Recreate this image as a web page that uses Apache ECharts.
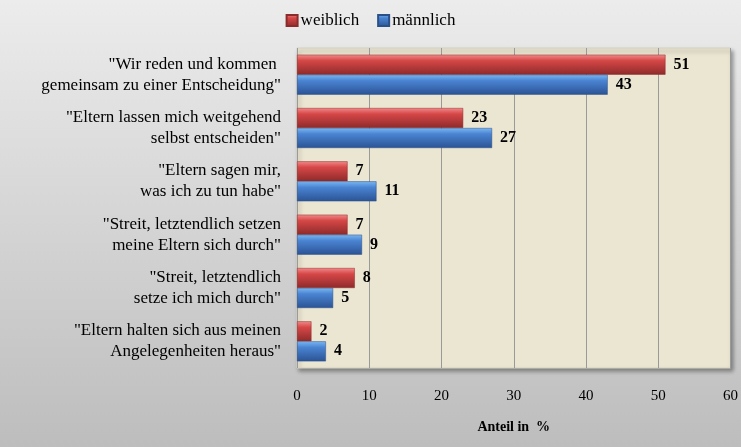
<!DOCTYPE html>
<html>
<head>
<meta charset="utf-8">
<script src="https://cdn.jsdelivr.net/npm/echarts@6/dist/echarts.min.js"></script>
<style>
  html, body { margin: 0; padding: 0; }
  #chart { width: 741px; height: 447px; background: linear-gradient(#ececec, #bdbdbd); }
</style>
</head>
<body>
<div id="chart"></div>
<script>
'use strict';

var categories = [
    '"Wir reden und kommen \ngemeinsam zu einer Entscheidung"',
    '"Eltern lassen mich weitgehend\nselbst entscheiden"',
    '"Eltern sagen mir,\nwas ich zu tun habe"',
    '"Streit, letztendlich setzen\nmeine Eltern sich durch"',
    '"Streit, letztendlich\nsetze ich mich durch"',
    '"Eltern halten sich aus meinen\nAngelegenheiten heraus"'
];
var weiblich = [51, 23, 7, 7, 8, 2];
var maennlich = [43, 27, 11, 9, 5, 4];
var xTicks = [0, 10, 20, 30, 40, 50, 60];

var serif = '"Liberation Serif", "Times New Roman", serif';

function grad(c1, c2, c3) {
    return new echarts.graphic.LinearGradient(0, 0, 0, 1, [
        {offset: 0, color: c1},
        {offset: 0.3, color: c2},
        {offset: 1, color: c3}
    ]);
}

var chart = echarts.init(document.getElementById('chart'));
var option = {
    backgroundColor: 'transparent',
    textStyle: {fontFamily: serif},
    legend: {
        top: 7,
        left: 'center',
        itemWidth: 11,
        itemHeight: 11,
        itemGap: 18,
        icon: 'rect',
        textStyle: {fontFamily: serif, fontSize: 17, color: '#000', padding: [0, 0, 0, -2]},
        data: ['weiblich', 'männlich']
    },
    grid: {
        left: 297,
        right: 6,
        top: 48,
        bottom: 79,
        show: true,
        backgroundColor: '#ebe6d2',
        borderColor: '#d6d2c0',
        borderWidth: 1,
        shadowColor: 'rgba(0,0,0,0.35)',
        shadowBlur: 4,
        shadowOffsetX: 2,
        shadowOffsetY: 3
    },
    xAxis: {
        type: 'value',
        min: 0,
        max: 60,
        interval: 10,
        name: 'Anteil in  %',
        nameLocation: 'middle',
        nameGap: 52,
        nameTextStyle: {fontFamily: serif, fontSize: 14, fontWeight: 'bold', color: '#000'},
        axisLine: {show: false},
        axisTick: {show: false},
        axisLabel: {
            fontFamily: serif, fontSize: 15, color: '#000', margin: 21,
            formatter: function (v) { return xTicks.indexOf(v) >= 0 ? String(v) : ''; }
        },
        splitLine: {show: true, lineStyle: {color: '#9a9a9a', width: 1}}
    },
    yAxis: {
        type: 'category',
        inverse: true,
        data: categories,
        axisLine: {show: false},
        axisTick: {show: false},
        axisLabel: {
            interval: 0,
            fontFamily: serif, fontSize: 17, color: '#000', lineHeight: 21, margin: 16,
            align: 'right'
        }
    },
    series: [
        {
            name: 'weiblich',
            type: 'bar',
            data: weiblich,
            barGap: '0%',
            barCategoryGap: '25%',
            itemStyle: {
                color: grad('#f28a8a', '#d64747', '#8e2a2a'),
                borderColor: '#8c2b2b',
                borderWidth: 0.5
            },
            label: {
                show: true, position: 'right', distance: 8,
                fontFamily: serif, fontSize: 16, fontWeight: 'bold', color: '#000'
            }
        },
        {
            name: 'männlich',
            type: 'bar',
            data: maennlich,
            itemStyle: {
                color: grad('#7ab8f2', '#4a84d2', '#2b5394'),
                borderColor: '#2b4f88',
                borderWidth: 0.5
            },
            label: {
                show: true, position: 'right', distance: 8,
                fontFamily: serif, fontSize: 16, fontWeight: 'bold', color: '#000'
            }
        }
    ]
};
chart.setOption(option);
</script>
</body>
</html>
